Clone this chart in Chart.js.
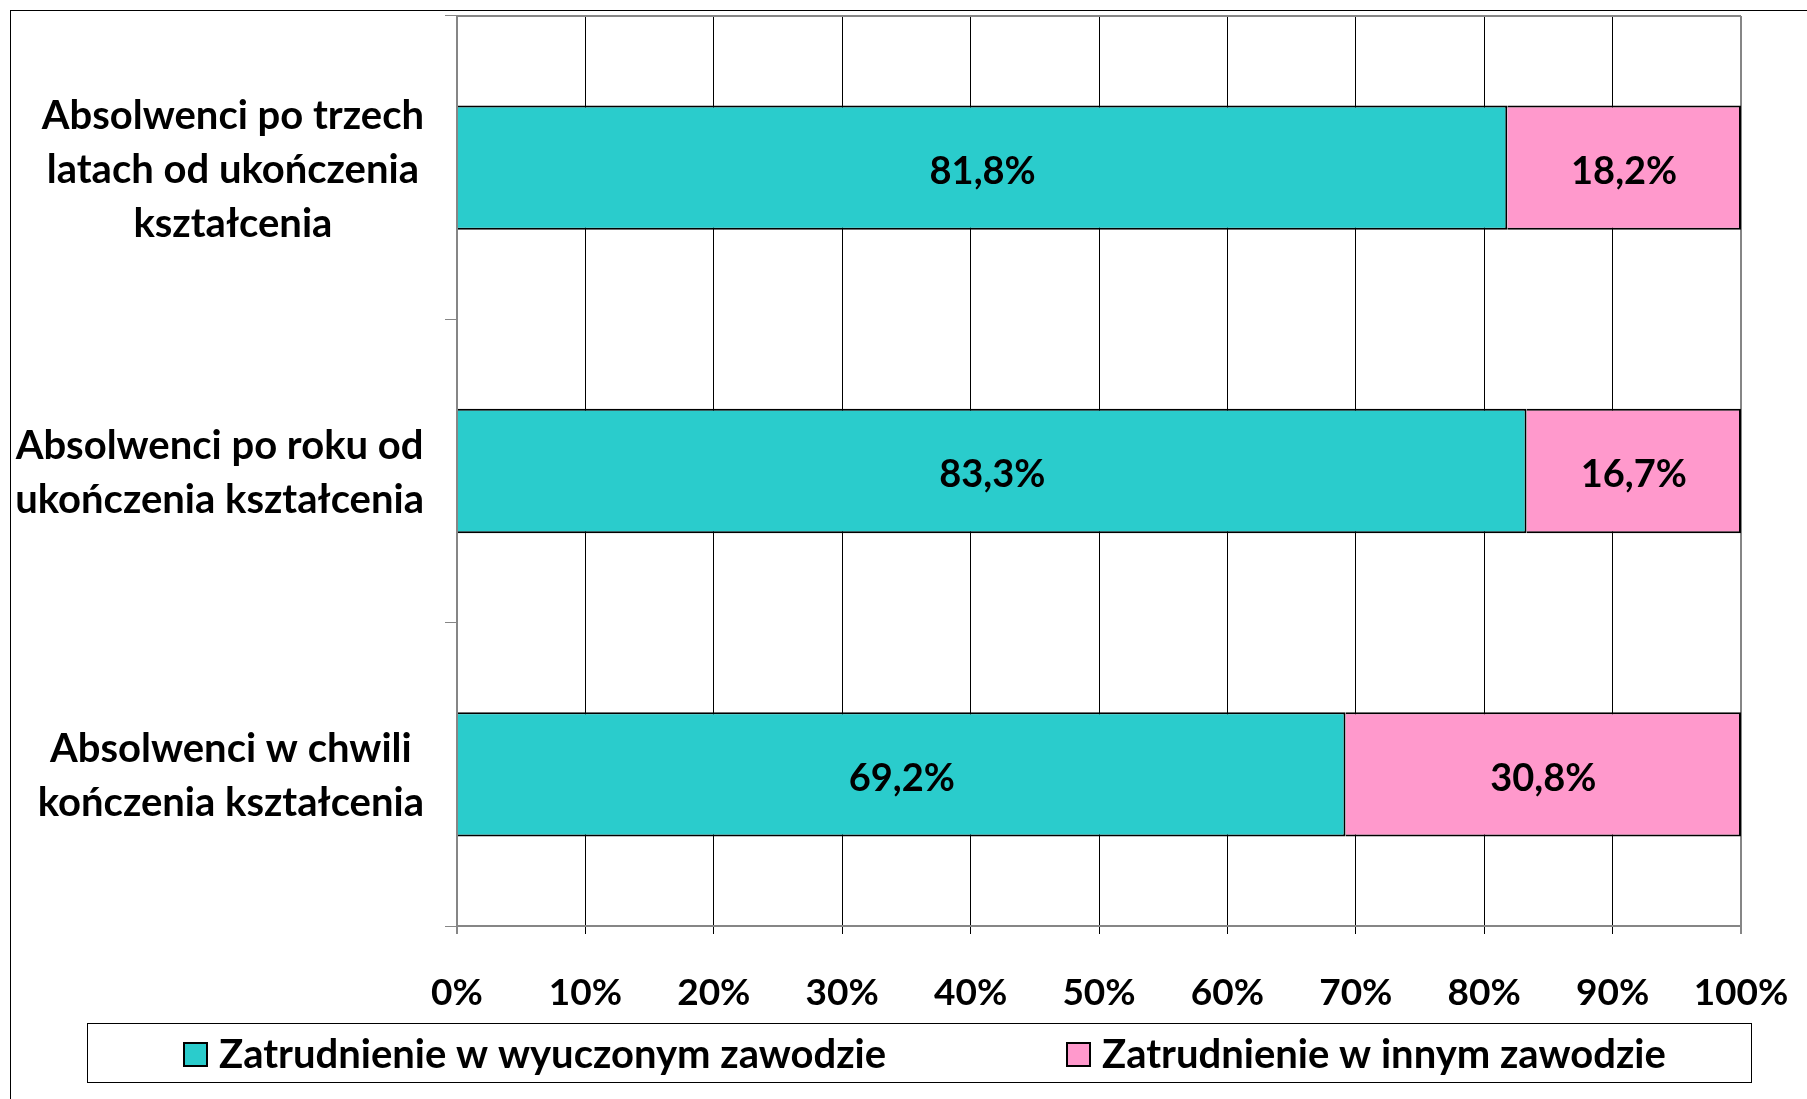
<!DOCTYPE html>
<html>
<head>
<meta charset="utf-8">
<script src="https://cdn.jsdelivr.net/npm/chart.js@4/dist/chart.umd.min.js"></script>
<style>
    html, body { margin: 0; padding: 0; background: #fff; }
    #wrap { width: 1807px; height: 1099px; }
</style>
</head>
<body>
<div id="wrap"><canvas id="chart" width="1807" height="1099"></canvas></div>
<script>
// Data
const categories = [
    ['Absolwenci po trzech', 'latach od ukończenia', 'kształcenia'],
    ['Absolwenci po roku od', 'ukończenia kształcenia'],
    ['Absolwenci w chwili', 'kończenia kształcenia']
];
const seriesNames = ['Zatrudnienie w wyuczonym zawodzie', 'Zatrudnienie w innym zawodzie'];
const inTrade = [81.8, 83.3, 69.2];
const otherTrade = [18.2, 16.7, 30.8];
const xTicks = [0, 10, 20, 30, 40, 50, 60, 70, 80, 90, 100];

const FONT = 'Lato, "Open Sans", sans-serif';
const teal = '#2ACCCC';
const pink = '#FF99CC';
const axisGray = '#868686';

const fmt = v => v.toFixed(1).replace('.', ',') + '%';

// Outer frame, top border of plot, category labels
const framePlugin = {
    id: 'frame',
    beforeDraw(chart) {
        const ctx = chart.ctx;
        ctx.save();
        ctx.fillStyle = '#fff';
        ctx.fillRect(0, 0, chart.width, chart.height);
        ctx.strokeStyle = '#000';
        ctx.lineWidth = 1;
        ctx.strokeRect(10.5, 10.5, chart.width + 50, chart.height + 50);
        ctx.restore();
    },
    afterDraw(chart) {
        const ctx = chart.ctx;
        const area = chart.chartArea;
        ctx.save();
        // top edge of plot
        ctx.strokeStyle = axisGray;
        ctx.lineWidth = 2;
        ctx.beginPath();
        ctx.moveTo(area.left, area.top);
        ctx.lineTo(area.right, area.top);
        ctx.stroke();

        // category labels (block right-aligned, lines centered)
        const yScale = chart.scales.y;
        ctx.font = 'bold 40px ' + FONT;
        ctx.fillStyle = '#000';
        ctx.textAlign = 'center';
        ctx.textBaseline = 'middle';
        const right = 424;
        const lh = 54;
        categories.forEach((lines, i) => {
            const y = yScale.getPixelForValue(i);
            const w = Math.max(...lines.map(l => ctx.measureText(l).width));
            const cx = right - w / 2;
            lines.forEach((l, j) => {
                ctx.fillText(l, cx, y + (j - (lines.length - 1) / 2) * lh + 2);
            });
        });
        ctx.restore();
    }
};

// Value labels inside the bars
const valueLabels = {
    id: 'valueLabels',
    afterDatasetsDraw(chart) {
        const ctx = chart.ctx;
        ctx.save();
        ctx.font = 'bold 38px ' + FONT;
        ctx.fillStyle = '#000';
        ctx.textAlign = 'center';
        ctx.textBaseline = 'middle';
        chart.data.datasets.forEach((ds, di) => {
            chart.getDatasetMeta(di).data.forEach((bar, i) => {
                const p = bar.getCenterPoint();
                ctx.fillText(fmt(ds.data[i]), p.x, p.y + 4);
            });
        });
        ctx.restore();
    }
};

// Boxed legend at the bottom
const boxLegend = {
    id: 'boxLegend',
    afterDraw(chart) {
        const ctx = chart.ctx;
        ctx.save();
        ctx.strokeStyle = '#000';
        ctx.lineWidth = 1;
        ctx.strokeRect(87.5, 1023.5, 1664, 59);
        const itemX = [184, 1067];
        ctx.font = 'bold 40px ' + FONT;
        ctx.textBaseline = 'middle';
        ctx.textAlign = 'left';
        chart.data.datasets.forEach((ds, i) => {
            ctx.fillStyle = ds.backgroundColor;
            ctx.fillRect(itemX[i], 1043, 23, 23);
            ctx.strokeStyle = '#000';
            ctx.lineWidth = 2;
            ctx.strokeRect(itemX[i], 1043, 23, 23);
            ctx.fillStyle = '#000';
            ctx.fillText(ds.label, itemX[i] + 35, 1055);
        });
        ctx.restore();
    }
};

const isEdge = c => c.tick && (c.tick.value === 0 || c.tick.value === 100);

new Chart(document.getElementById('chart'), {
    type: 'bar',
    data: {
        labels: categories,
        datasets: [
            { label: seriesNames[0], data: inTrade, backgroundColor: teal, borderColor: '#000', borderWidth: 2 },
            { label: seriesNames[1], data: otherTrade, backgroundColor: pink, borderColor: '#000', borderWidth: 2 }
        ]
    },
    options: {
        indexAxis: 'y',
        responsive: false,
        animation: false,
        layout: { padding: { top: 16, right: 66, left: 0, bottom: 0 } },
        datasets: { bar: { categoryPercentage: 1, barPercentage: 0.41 } },
        plugins: {
            legend: { display: false },
            tooltip: { enabled: false }
        },
        scales: {
            x: {
                stacked: true,
                min: 0,
                max: 100,
                afterBuildTicks: s => { s.ticks = xTicks.map(v => ({ value: v })); },
                afterFit: s => { s.height = 173; s.paddingLeft = 0; s.paddingRight = 0; },
                ticks: {
                    callback: v => v + '%',
                    color: '#000',
                    padding: 37,
                    maxRotation: 0,
                    font: { family: FONT, size: 37, weight: 'bold' }
                },
                grid: {
                    color: c => isEdge(c) ? axisGray : '#000',
                    lineWidth: c => isEdge(c) ? 2 : 1,
                    tickLength: 8
                },
                border: { color: axisGray, width: 2 }
            },
            y: {
                stacked: true,
                afterFit: s => { s.width = 457; },
                ticks: { display: false },
                grid: {
                    drawOnChartArea: false,
                    color: axisGray,
                    lineWidth: 1,
                    tickLength: 12
                },
                border: { color: axisGray, width: 2 }
            }
        }
    },
    plugins: [framePlugin, valueLabels, boxLegend]
});
</script>
</body>
</html>
